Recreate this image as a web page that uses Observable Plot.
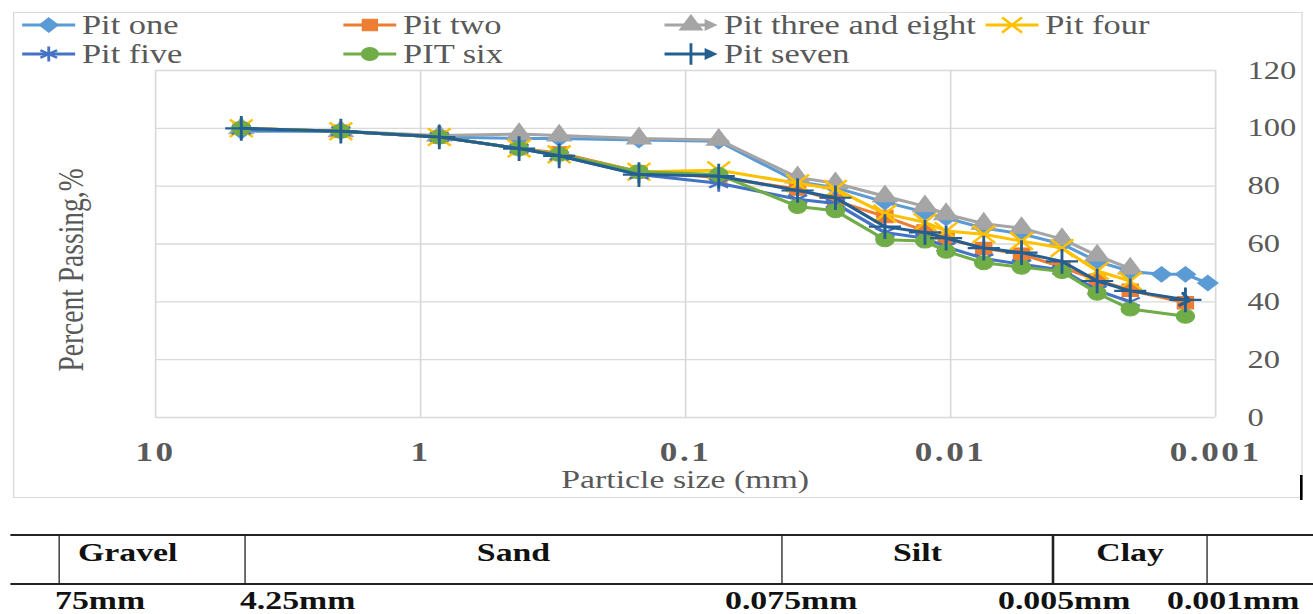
<!DOCTYPE html>
<html><head><meta charset="utf-8">
<script src="https://cdn.jsdelivr.net/npm/d3@7"></script>
<script src="https://cdn.jsdelivr.net/npm/@observablehq/plot@0.6"></script>
<style>
html,body{margin:0;padding:0;background:#fff;overflow:hidden;}
#wrap{position:relative;width:1010px;height:614px;transform:scaleX(1.3);transform-origin:0 0;font-family:"Liberation Serif","Times New Roman",serif;color:#595959;}
#frame{position:absolute;left:10px;top:12px;width:992px;height:486px;border:1px solid #d9d9d9;box-sizing:border-box;}
#chart{position:absolute;left:0;top:0;}
#legend{position:absolute;left:17px;top:10.5px;display:grid;grid-template-columns:repeat(4,247px);grid-auto-rows:29px;font-size:26.5px;}
.item{display:flex;align-items:center;white-space:nowrap;}
.item svg{margin-right:5px;flex:none;}
#ytitle{position:absolute;left:55.4px;top:270px;transform:translate(-50%,-50%) rotate(-90deg);font-size:27.5px;white-space:nowrap;line-height:30px;}
#xtitle{position:absolute;left:527px;top:465px;transform:translateX(-50%);font-size:26px;white-space:nowrap;line-height:30px;}
.hline{position:absolute;left:7.7px;width:1002.3px;height:2px;background:#222;}
.vline{position:absolute;top:534px;width:1.6px;height:51px;background:#222;}
.zone{position:absolute;top:538px;font-weight:bold;font-size:26px;color:#111;line-height:30px;white-space:nowrap;}
.bound{position:absolute;top:586px;font-weight:bold;font-size:26px;color:#111;line-height:30px;white-space:nowrap;}
#mark{position:absolute;left:1000.3px;top:475px;width:1.5px;height:25px;background:#000;}
</style>
</head><body>
<div id="wrap">
  <div id="frame"></div>
  <div id="chart"></div>
  <div id="legend"></div>
  <div id="ytitle">Percent Passing,%</div>
  <div id="xtitle">Particle size (mm)</div>
  <div id="strip"></div>
  <div id="mark"></div>
</div>
<script>
// ---- data ----
const sizes = [4.75, 2.0, 0.85, 0.425, 0.3, 0.15, 0.075, 0.0378, 0.0272, 0.0177, 0.0125, 0.0104, 0.0075, 0.0054, 0.0038, 0.0028, 0.0021, 0.0016, 0.0013, 0.00107];
const pitOne        = [99, 99, 97, 96.5, 96.5, 96, 95.5, 81.5, 79.5, 74.5, 71, 69, 65.5, 63.5, 60, 54, 50.5, 49.5, 49.5, 46.5];
const pitTwo        = [100, 99, 97, 93, 91.5, 85, 83, 79, 75, 69.5, 64.5, 62, 58.5, 56.5, 52, 47.5, 44, null, 39.7, null];
const pitThreeEight = [100, 99, 97.5, 98, 97.5, 96.5, 96, 83, 81, 76.5, 73, 70.3, 67, 65.5, 61.7, 56, 51.5, null, null, null];
const pitFour       = [100, 99, 97, 93, 91, 85, 85.5, 81, 79, 70.5, 67.5, 64.5, 63.4, 61, 58.6, 50.7, 47.2, null, null, null];
const pitFive       = [99.5, 99, 97, 93, 90.5, 84, 81, 75.5, 74, 64, 62, 59, 55, 53, 51, 44, 40, null, null, null];
const pitSix        = [100, 99, 97, 93, 91, 85, 84, 73, 71.5, 61.5, 61, 57.5, 53.5, 52, 50.5, 43, 37.5, null, 35, null];
const pitSeven      = [100, 99, 97, 93, 90.5, 84, 83.5, 78.5, 76, 66, 64, 62, 58.6, 57, 54, 47.2, 43.8, null, 40.7, null];

const seriesNames   = ["Pit one", "Pit two", "Pit three and eight", "Pit four", "Pit five", "PIT six", "Pit seven"];
const seriesColors  = ["#5B9BD5", "#ED7D31", "#A5A5A5", "#FFC000", "#4472C4", "#70AD47", "#255E91"];
const seriesSymbols = ["diamond2", "square", "triangle", "times", "asterisk", "circle", "plus"];
const seriesValues  = [pitOne, pitTwo, pitThreeEight, pitFour, pitFive, pitSix, pitSeven];

const xTicks = [10, 1, 0.1, 0.01, 0.001];
const xTickLabels = ["10", "1", "0.1", "0.01", "0.001"];
const yTicks = [0, 20, 40, 60, 80, 100, 120];

const zoneNames = ["Gravel", "Sand", "Silt", "Clay"];
const boundLabels = ["75mm", "4.25mm", "0.075mm", "0.005mm", "0.001mm"];

// ---- layout (unscaled px) ----
const strokeSymbols = new Set(["times", "asterisk", "plus"]);
const arrowSeries = new Set(["Pit seven"]);
const legendArrow = new Set(["Pit three and eight", "Pit seven"]);
const R = 7;

const rows = [];
seriesNames.forEach((name, k) => {
  sizes.forEach((s, i) => {
    const v = seriesValues[k][i];
    if (v != null) rows.push({series: name, size: s, pct: v});
  });
});

const marks = [
  Plot.ruleX(xTicks, {stroke: "#d9d9d9", strokeWidth: 1.3}),
  Plot.ruleY(yTicks, {stroke: "#d9d9d9", strokeWidth: 1.3})
];
seriesNames.forEach((name, k) => {
  const data = rows.filter(r => r.series === name);
  const color = seriesColors[k];
  const sym = seriesSymbols[k];
  marks.push(Plot.line(data, {x: "size", y: "pct", stroke: color, strokeWidth: 3, strokeLinejoin: "round",
    markerEnd: arrowSeries.has(name) ? "arrow" : undefined}));
  if (strokeSymbols.has(sym)) {
    marks.push(Plot.dot(data, {x: "size", y: "pct", symbol: sym, r: R + 1, stroke: color, strokeWidth: 2.2, fill: "none"}));
  } else {
    marks.push(Plot.dot(data, {x: "size", y: "pct", symbol: sym, r: R, fill: color, stroke: color, strokeWidth: 1}));
  }
});

const chart = Plot.plot({
  width: 1010, height: 500,
  marginTop: 70, marginBottom: 83, marginLeft: 119.2, marginRight: 75.4,
  style: {fontFamily: '"Liberation Serif", "Times New Roman", serif', fontSize: "25px", color: "#595959", background: "transparent", overflow: "visible"},
  x: {type: "log", domain: [10, 0.001], ticks: xTicks,
      tickFormat: d => { const i = xTicks.indexOf(d); return i >= 0 ? xTickLabels[i] : String(d); },
      tickSize: 0, tickPadding: 24, label: null},
  y: {domain: [0, 120], ticks: yTicks, axis: "right", tickSize: 0, tickPadding: 24.6, label: null},
  marks
});
chart.querySelectorAll('g[aria-label^="x-axis"] text').forEach(t => {
  t.setAttribute("font-weight", "bold");
  t.setAttribute("font-size", "27");
  t.style.letterSpacing = "2px";
});
document.getElementById("chart").appendChild(chart);

// ---- legend ----
const legend = d3.select("#legend");
const typeMap = {diamond2: d3.symbolDiamond2, square: d3.symbolSquare, triangle: d3.symbolTriangle,
  times: d3.symbolX, asterisk: d3.symbolAsterisk, circle: d3.symbolCircle, plus: d3.symbolPlus};
seriesNames.forEach((name, k) => {
  const item = legend.append("div").attr("class", "item");
  const svg = item.append("svg").attr("width", 41).attr("height", 22);
  const color = seriesColors[k];
  svg.append("line").attr("x1", 0).attr("x2", legendArrow.has(name) ? 34 : 41).attr("y1", 11).attr("y2", 11)
    .attr("stroke", color).attr("stroke-width", 3);
  if (legendArrow.has(name)) {
    svg.append("path").attr("d", "M31,5 L41,11 L31,17 Z").attr("fill", color);
  }
  const sym = seriesSymbols[k];
  const isStroke = strokeSymbols.has(sym);
  const r = isStroke ? R : R - 0.5;
  svg.append("path").attr("transform", "translate(20.5,11)")
    .attr("d", d3.symbol().type(typeMap[sym]).size(Math.PI * r * r)())
    .attr("fill", isStroke ? "none" : color).attr("stroke", color).attr("stroke-width", isStroke ? 2.2 : 1);
  item.append("span").text(name);
});

// ---- soil classification strip ----
const strip = d3.select("#strip");
strip.append("div").attr("class", "hline").style("top", "534px");
strip.append("div").attr("class", "hline").style("top", "583px");
const dividers = [45.4, 188.5, 601.5, 810, 928.5];
dividers.forEach(x => strip.append("div").attr("class", "vline").style("left", (x - 0.8) + "px"));
// Gravel left-aligned with indent; others centred in their cells
const zoneLeft = [60, null, null, null];
zoneNames.forEach((z, i) => {
  const div = strip.append("div").attr("class", "zone").text(z);
  if (zoneLeft[i] != null) div.style("left", zoneLeft[i] + "px");
  else {
    const c = (dividers[i] + dividers[i + 1]) / 2;
    div.style("left", c + "px").style("transform", "translateX(-50%)");
  }
});
const boundLeft = [42.3, 184.6, 557.7, 767.7, 897.7];
boundLabels.forEach((b, i) => {
  strip.append("div").attr("class", "bound").style("left", boundLeft[i] + "px").text(b);
});
</script>
</body></html>
